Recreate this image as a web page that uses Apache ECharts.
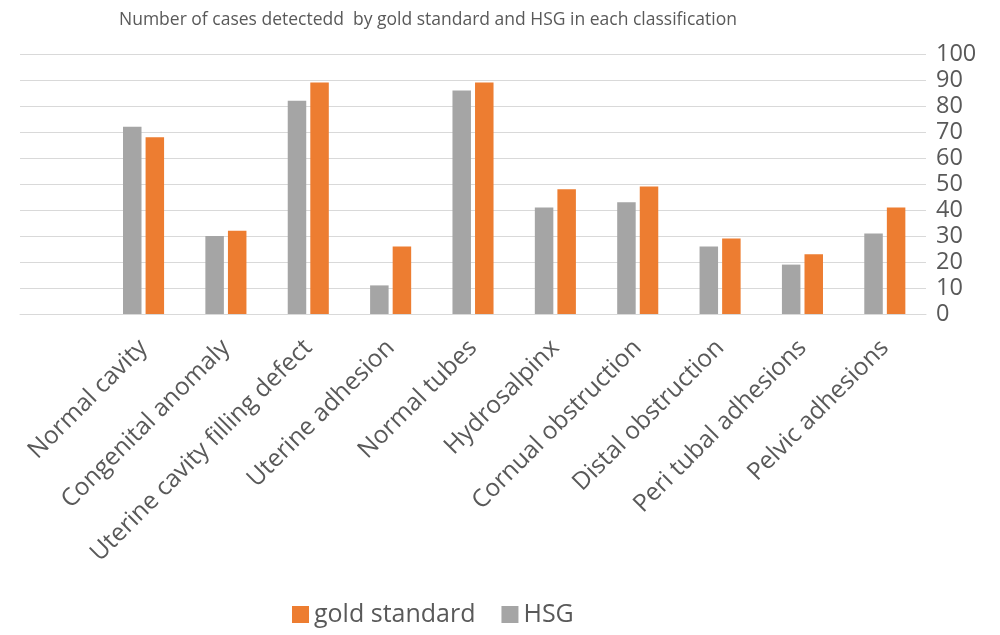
<!DOCTYPE html>
<html>
<head>
<meta charset="utf-8">
<script src="https://cdn.jsdelivr.net/npm/echarts@6/dist/echarts.min.js"></script>
<style>
  html, body { margin: 0; padding: 0; background: #fff; }
  #chart { width: 1000px; height: 635px; }
</style>
</head>
<body>
<div id="chart"></div>
<script>
// categories (the first slot is empty in the original chart)
var categories = ["", "Normal cavity", "Congenital anomaly", "Uterine cavity filling defect",
    "Uterine adhesion", "Normal tubes", "Hydrosalpinx", "Cornual obstruction",
    "Distal obstruction", "Peri tubal adhesions", "Pelvic adhesions"];
var hsg = [null, 72, 30, 82, 11, 86, 41, 43, 26, 19, 31];
var goldStandard = [null, 68, 32, 89, 26, 89, 48, 49, 29, 23, 41];
var yTicks = [0, 100, 10];

var chart = echarts.init(document.getElementById("chart"));

var txtColor = "#595959";
var font = "'Open Sans', sans-serif";

chart.setOption({
    animation: false,
    title: {
        text: "Number of cases detectedd  by gold standard and HSG in each classification",
        left: 114,
        top: 6,
        textStyle: {
            fontFamily: "'Liberation Sans Narrow', 'Open Sans', sans-serif",
            fontSize: 17.5,
            fontWeight: "normal",
            color: txtColor
        }
    },
    legend: {
        bottom: 3,
        left: 287,
        itemWidth: 17,
        itemHeight: 17,
        itemGap: 26,
        icon: "rect",
        data: ["gold standard", "HSG"],
        textStyle: { fontFamily: font, fontSize: 25, color: txtColor }
    },
    grid: {
        left: 20,
        right: 74,
        top: 54,
        bottom: 321,
        containLabel: false
    },
    xAxis: {
        type: "category",
        data: categories,
        axisLine: { show: true, lineStyle: { color: "#d9d9d9", width: 1 } },
        axisTick: { show: false },
        axisLabel: {
            interval: 0,
            rotate: 45,
            margin: 30,
            fontFamily: font,
            fontSize: 24.5,
            color: txtColor
        }
    },
    yAxis: {
        type: "value",
        position: "right",
        min: yTicks[0],
        max: yTicks[1],
        interval: yTicks[2],
        axisLine: { show: false },
        axisTick: { show: false },
        splitLine: { lineStyle: { color: "#d9d9d9", width: 1 } },
        axisLabel: {
            margin: 10,
            align: "left",
            fontFamily: font,
            fontSize: 23.5,
            color: txtColor
        }
    },
    series: [
        {
            name: "HSG",
            type: "bar",
            data: hsg,
            barWidth: 18.5,
            barGap: "22%",
            itemStyle: { color: "#A5A5A5" }
        },
        {
            name: "gold standard",
            type: "bar",
            data: goldStandard,
            barWidth: 18.5,
            itemStyle: { color: "#ED7D31" }
        }
    ]
});
</script>
</body>
</html>
